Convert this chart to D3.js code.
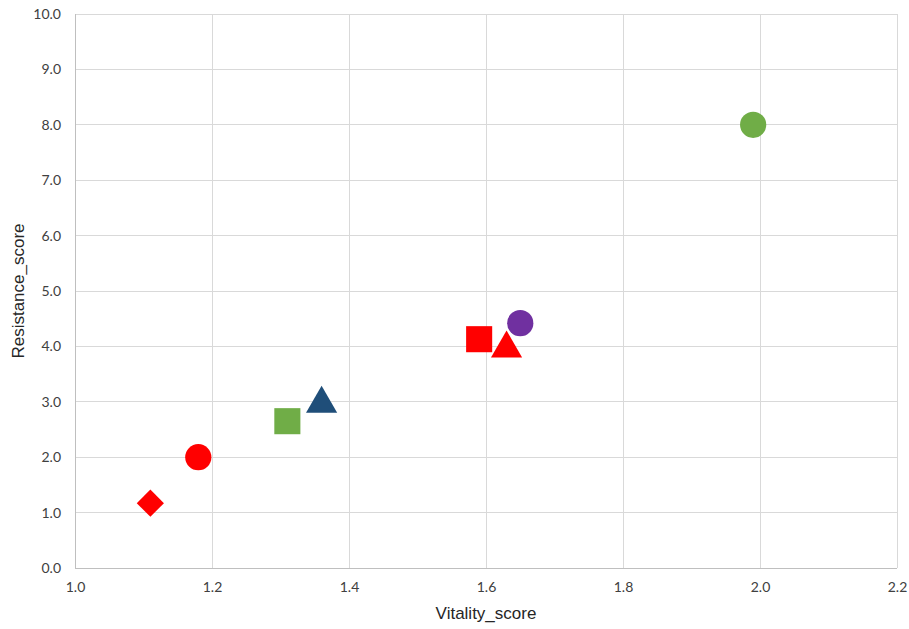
<!DOCTYPE html>
<html>
<head>
<meta charset="utf-8">
<script src="https://cdn.jsdelivr.net/npm/d3@7"></script>
<style>
  html, body { margin: 0; padding: 0; background: #fff; }
  svg { display: block; }
</style>
</head>
<body>
<svg id="chart" width="909" height="629"></svg>
<script>
// Point data: vitality (x), resistance (y), marker shape and colour
const vitality   = [1.11, 1.18, 1.31, 1.36, 1.59, 1.63, 1.65, 1.99];
const resistance = [1.17, 2.00, 2.65, 3.00, 4.13, 4.00, 4.42, 8.00];
const shapes     = ["diamond", "circle", "square", "triangle", "square", "triangle", "circle", "circle"];
const colors     = ["#FF0000", "#FF0000", "#70AD47", "#1F4E79", "#FF0000", "#FF0000", "#7030A0", "#70AD47"];

const xTicks = [1.0, 1.2, 1.4, 1.6, 1.8, 2.0, 2.2];
const yTicks = [0, 1, 2, 3, 4, 5, 6, 7, 8, 9, 10];

const svg = d3.select("#chart");
const margin = { left: 75, right: 12, top: 14, bottom: 61 };
const W = 909, H = 629;

const x = d3.scaleLinear().domain([1.0, 2.2]).range([margin.left, W - margin.right]);
const y = d3.scaleLinear().domain([0, 10]).range([H - margin.bottom, margin.top]);

const tickFont = "Lato, 'Open Sans', sans-serif";
const titleFont = "'Liberation Sans', Arial, sans-serif";

// Gridlines
svg.append("g")
  .selectAll("line.vx")
  .data(xTicks)
  .join("line")
  .attr("x1", d => x(d)).attr("x2", d => x(d))
  .attr("y1", y(0)).attr("y2", y(10))
  .attr("stroke", "#d9d9d9").attr("stroke-width", 1)
  .attr("shape-rendering", "crispEdges");

svg.append("g")
  .selectAll("line.hy")
  .data(yTicks)
  .join("line")
  .attr("x1", x(1.0)).attr("x2", x(2.2))
  .attr("y1", d => y(d)).attr("y2", d => y(d))
  .attr("stroke", "#d9d9d9").attr("stroke-width", 1)
  .attr("shape-rendering", "crispEdges");

// Axis lines
svg.append("line")
  .attr("x1", x(1.0)).attr("x2", x(1.0)).attr("y1", y(0)).attr("y2", y(10))
  .attr("stroke", "#bfbfbf").attr("shape-rendering", "crispEdges");
svg.append("line")
  .attr("x1", x(1.0)).attr("x2", x(2.2)).attr("y1", y(0)).attr("y2", y(0))
  .attr("stroke", "#bfbfbf").attr("shape-rendering", "crispEdges");

// Axes (labels only)
const xAxis = d3.axisBottom(x).tickValues(xTicks).tickFormat(d3.format(".1f")).tickSize(0).tickPadding(14);
const yAxis = d3.axisLeft(y).tickValues(yTicks).tickFormat(d3.format(".1f")).tickSize(0).tickPadding(14);

const gx = svg.append("g").attr("transform", `translate(0,${y(0)})`).call(xAxis);
const gy = svg.append("g").attr("transform", `translate(${x(1.0)},0)`).call(yAxis);
[gx, gy].forEach(g => {
  g.select(".domain").remove();
  g.selectAll("text")
    .attr("font-family", tickFont)
    .attr("font-size", 14)
    .attr("fill", "#404040");
});

// Axis titles
svg.append("text")
  .attr("x", (x(1.0) + x(2.2)) / 2)
  .attr("y", 619)
  .attr("text-anchor", "middle")
  .attr("font-family", titleFont)
  .attr("font-size", 17)
  .attr("fill", "#262626")
  .text("Vitality_score");

svg.append("text")
  .attr("transform", `translate(24,${(y(0) + y(10)) / 2}) rotate(-90)`)
  .attr("text-anchor", "middle")
  .attr("font-family", titleFont)
  .attr("font-size", 17)
  .attr("fill", "#262626")
  .text("Resistance_score");

// Markers
const symbolMap = {
  circle: d3.symbolCircle,
  square: d3.symbolSquare,
  triangle: d3.symbolTriangle,
  diamond: d3.symbolSquare
};
const sizeMap = { circle: 540, square: 680, triangle: 420, diamond: 370 };

const pts = vitality.map((v, i) => ({ v, r: resistance[i], shape: shapes[i], color: colors[i] }));

svg.append("g")
  .selectAll("path")
  .data(pts)
  .join("path")
  .attr("d", d => d3.symbol().type(symbolMap[d.shape]).size(sizeMap[d.shape])())
  .attr("transform", d => {
    let t = `translate(${x(d.v)},${y(d.r)})`;
    if (d.shape === "diamond") t += " rotate(45)";
    if (d.shape === "triangle") t += " translate(0,2)";
    return t;
  })
  .attr("fill", d => d.color);
</script>
</body>
</html>
